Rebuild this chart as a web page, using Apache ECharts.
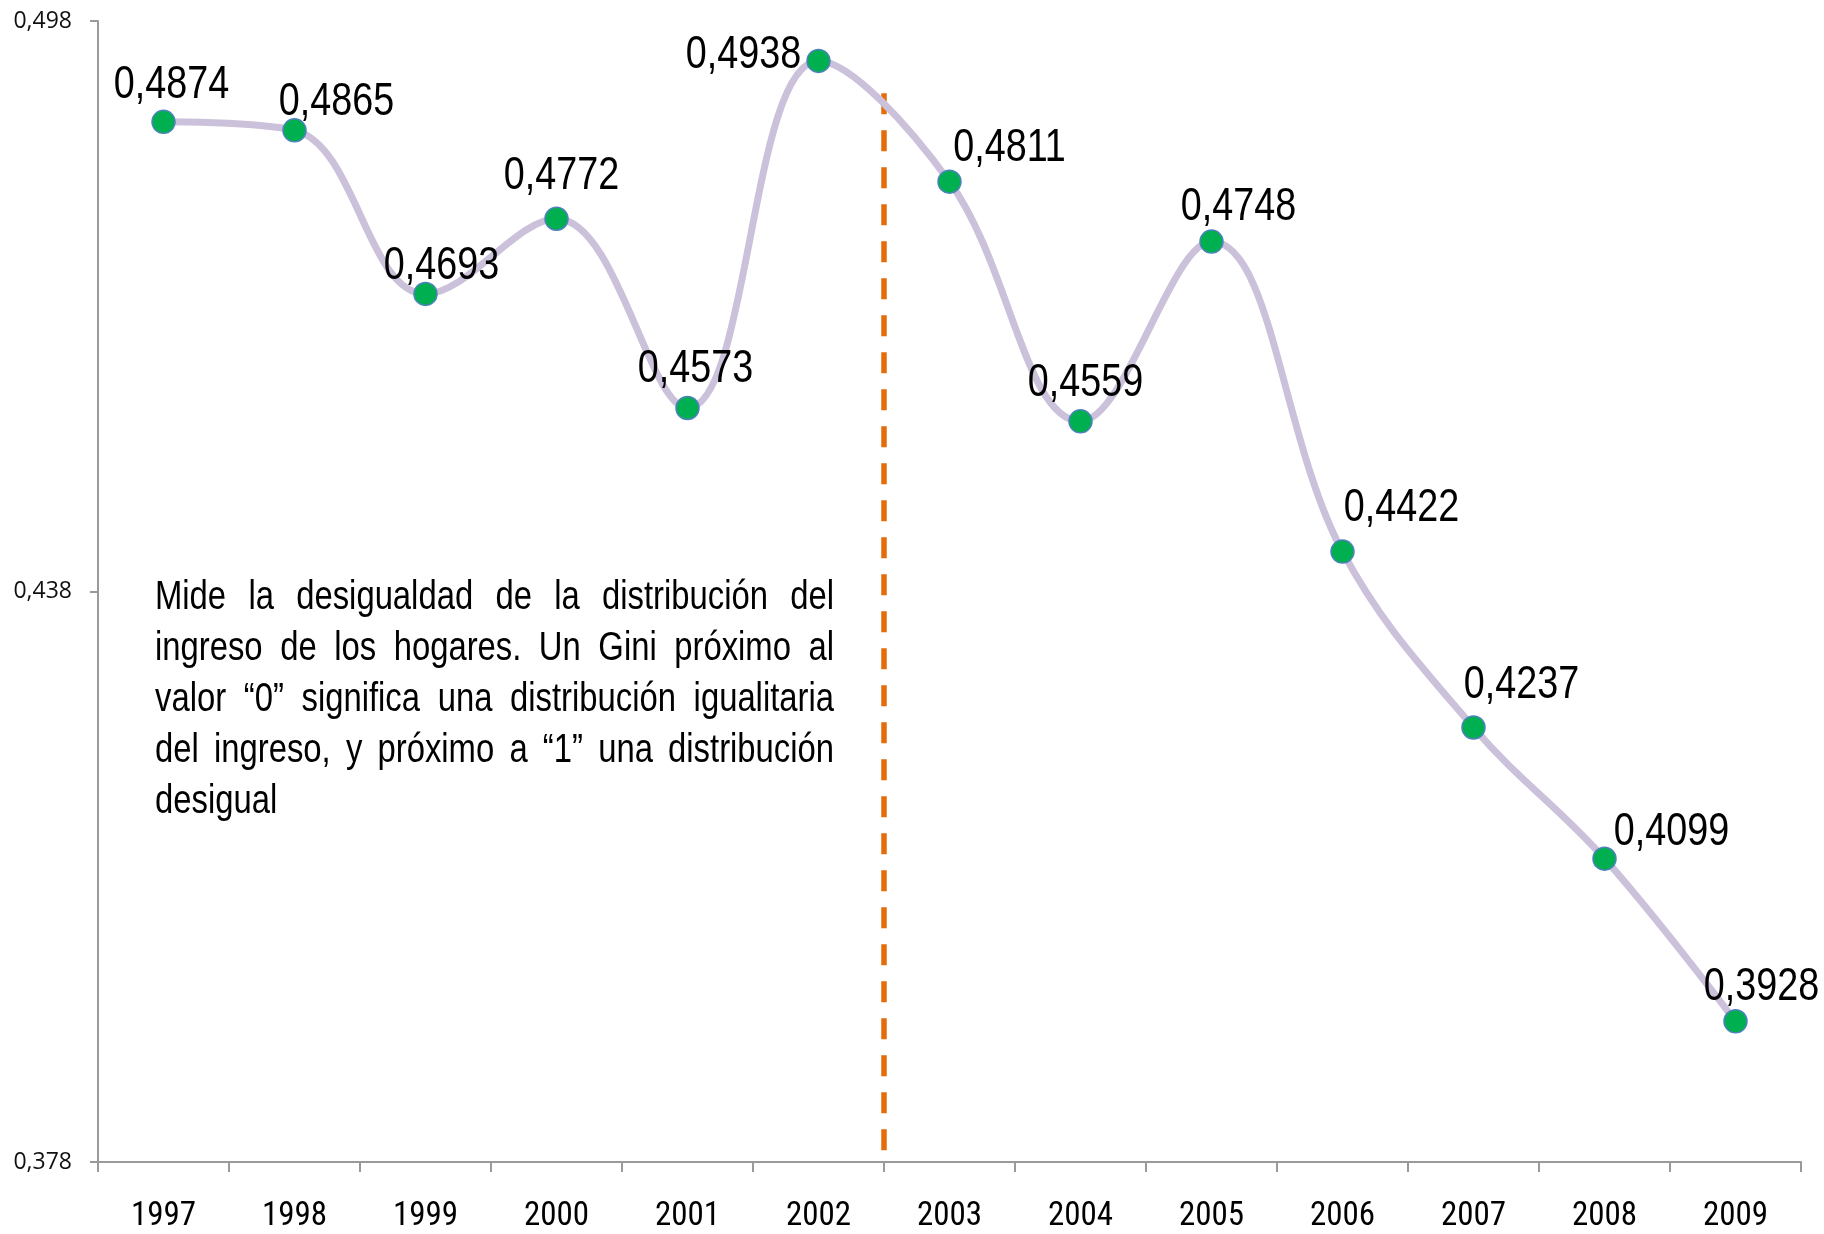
<!DOCTYPE html>
<html>
<head>
<meta charset="utf-8">
<script src="https://cdn.jsdelivr.net/npm/echarts@6/dist/echarts.min.js"></script>
<style>
  html, body { margin: 0; padding: 0; background: #fff; }
  #main { width: 1824px; height: 1234px; }
</style>
</head>
<body>
<div id="main"></div>
<script>
// datos del coeficiente de Gini
var years = ['1997', '1998', '1999', '2000', '2001', '2002', '2003', '2004', '2005', '2006', '2007', '2008', '2009'];
var gini = [0.4874, 0.4865, 0.4693, 0.4772, 0.4573, 0.4938, 0.4811, 0.4559, 0.4748, 0.4422, 0.4237, 0.4099, 0.3928];
var yTicks = [0.378, 0.438, 0.498];
// linea divisoria entre 2002 y 2003 (limite de categoria)
var dividerAt = 6;
var dividerTop = 0.4904;

var note = [
  'Mide la desigualdad de la distribución del',
  'ingreso de los hogares. Un Gini próximo al',
  'valor “0” significa una distribución igualitaria',
  'del ingreso, y próximo a “1” una distribución',
  'desigual'
];

// desplazamiento de cada etiqueta respecto a su punto (px)
var labelOffsets = [[8, -36], [42, -28], [16, -28], [5, -42], [8, -39], [-75, -6], [60, -33],
  [5, -38], [27, -34], [59, -43], [48, -42], [67, -26], [26, -34]];

// Arial Narrow ~ Liberation Sans comprimida
var sans = "'Liberation Sans', Arial, sans-serif";
var narrowScale = 0.82;

function comma(v, d) {
  return v.toFixed(d).replace('.', ',');
}

// texto justificado palabra por palabra
function buildNote() {
  var size = 40, left = 155, right = 834, firstMid = 598, step = 51;
  var ctx = document.createElement('canvas').getContext('2d');
  ctx.font = size + 'px ' + sans;
  var els = [];
  note.forEach(function (line, i) {
    var words = line.split(' ');
    var widths = words.map(function (w) { return ctx.measureText(w).width * narrowScale; });
    var total = widths.reduce(function (a, b) { return a + b; }, 0);
    var last = i === note.length - 1;
    var gap = last ? ctx.measureText(' ').width * narrowScale : (right - left - total) / (words.length - 1);
    var x = left;
    words.forEach(function (w, j) {
      els.push({
        type: 'text',
        x: x,
        y: firstMid + i * step,
        scaleX: narrowScale,
        style: {
          text: w,
          fontFamily: sans,
          fontSize: size,
          fill: '#000',
          verticalAlign: 'middle'
        }
      });
      x += widths[j] + gap;
    });
  });
  return els;
}

var chart = echarts.init(document.getElementById('main'));
chart.setOption({
  animation: false,
  grid: { left: 98, right: 23, top: 21, bottom: 72, containLabel: false, outerBoundsMode: 'none' },
  xAxis: [
    {
      type: 'category',
      data: years,
      boundaryGap: true,
      axisLine: { lineStyle: { color: '#9a9a9a', width: 2 } },
      axisTick: { show: true, interval: 0, length: 10, lineStyle: { color: '#9a9a9a', width: 2 } },
      axisLabel: {
        margin: 38,
        fontFamily: 'Roboto',
        fontStyle: 'condensed',
        fontWeight: 'normal',
        fontSize: 33,
        color: '#000',
        interval: 0
      }
    },
    {
      type: 'value',
      min: 0,
      max: years.length,
      show: false
    }
  ],
  yAxis: {
    type: 'value',
    min: yTicks[0],
    max: yTicks[yTicks.length - 1],
    interval: 0.06,
    splitLine: { show: false },
    axisLine: { show: true, lineStyle: { color: '#9a9a9a', width: 2 } },
    axisTick: { show: true, length: 8, lineStyle: { color: '#9a9a9a', width: 2 } },
    axisLabel: {
      margin: 26,
      fontFamily: "'Open Sans', sans-serif",
      fontSize: 23,
      color: '#111',
      formatter: function (v) { return comma(v, 3); }
    }
  },
  series: [
    {
      type: 'line',
      xAxisIndex: 1,
      data: [[dividerAt, dividerTop], [dividerAt, yTicks[0]]],
      symbol: 'none',
      silent: true,
      z: 1,
      lineStyle: { color: '#E46C0A', width: 5.5, type: [21, 16] }
    },
    {
      type: 'line',
      data: gini,
      smooth: 0.38,
      symbol: 'circle',
      symbolSize: 23,
      z: 2,
      lineStyle: { color: '#CCC1DA', width: 7 },
      itemStyle: { color: '#00B050', borderColor: '#4F81BD', borderWidth: 1.5 }
    },
    {
      // etiquetas de valor, en fuente estrecha
      type: 'custom',
      data: gini.map(function (v, i) { return [i, v]; }),
      z: 5,
      silent: true,
      renderItem: function (params, api) {
        var p = api.coord([api.value(0), api.value(1)]);
        var off = labelOffsets[params.dataIndex];
        return {
          type: 'text',
          x: p[0] + off[0],
          y: p[1] + off[1],
          scaleX: narrowScale,
          style: {
            text: comma(api.value(1), 4),
            fontFamily: sans,
            fontSize: 46,
            fill: '#000',
            align: 'center',
            verticalAlign: 'middle'
          }
        };
      }
    }
  ],
  graphic: buildNote()
});
window.onresize = function () {
  chart.resize();
};
</script>
</body>
</html>
